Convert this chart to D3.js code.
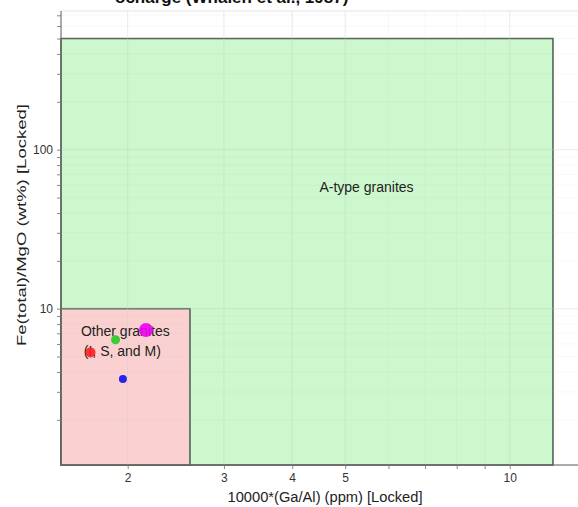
<!DOCTYPE html>
<html>
<head>
<meta charset="utf-8">
<script src="https://cdn.jsdelivr.net/npm/d3@7"></script>
<style>
  html, body { margin: 0; padding: 0; background: #ffffff; }
  svg { display: block; font-family: "Liberation Sans", Arial, sans-serif; }
</style>
</head>
<body>
<svg id="chart" width="578" height="507"></svg>
<script>
// Whalen et al. (1987) discrimination fields and sample points
const titleText = "ocharge (Whalen et al., 1987)";
const xTitle = "10000*(Ga/Al) (ppm) [Locked]";
const yTitle = "Fe(total)/MgO (wt%) [Locked]";

const xDomain = [1.51, 13.5];
const yDomain = [1.04, 745];
const xTickLabels = [2, 3, 4, 5, 10];
const yTickLabels = [10, 100];

// Fields: x extent and y extent
const fieldNames = ["A-type granites", "Other granites"];
const fieldX = [[1.51, 12], [1.51, 2.6]];
const fieldY = [[1.04, 500], [1.04, 10]];
const fieldFill = ["#cdf7cd", "#fbd0d0"];
const fieldLabelX = [5.47, 1.98];
const fieldLabelY = [54.5, 6.7];
const fieldLabelLines = [["A-type granites"], ["Other granites", "(I, S, and M)"]];

// Samples
const sampleGaAl = [1.71, 1.90, 2.16, 1.96];
const sampleFeMg = [5.31, 6.38, 7.35, 3.61];
const sampleColor = ["#ff2020", "#22cc22", "#ee00ee", "#1010ee"];
const sampleRadius = [5, 4.5, 7, 4];

(function draw() {
  const svg = d3.select("#chart");
  const padLeft = 61, padTop = 11, axisY = 465;
  const pxPerDecadeX = 546.5;
  const plotRight = padLeft + pxPerDecadeX * Math.log10(xDomain[1] / xDomain[0]);

  const x = d3.scaleLog().domain(xDomain).range([padLeft, plotRight]);
  const y = d3.scaleLog().domain(yDomain).range([axisY, padTop]);

  // Title (runs above the visible area)
  svg.append("text")
    .attr("x", 115).attr("y", 3)
    .attr("font-size", 17).attr("font-weight", "bold").attr("fill", "#111")
    .text(titleText);

  // Plot frame
  svg.append("rect")
    .attr("x", padLeft).attr("y", padTop)
    .attr("width", plotRight - padLeft).attr("height", axisY - padTop)
    .attr("fill", "#ffffff").attr("stroke", "#e4e4e4");

  // Fields
  const fields = fieldNames.map((n, i) => ({ n, xs: fieldX[i], ys: fieldY[i], fill: fieldFill[i] }));
  svg.append("g").selectAll("rect").data(fields).join("rect")
    .attr("x", d => x(d.xs[0]))
    .attr("y", d => y(d.ys[1]))
    .attr("width", d => x(d.xs[1]) - x(d.xs[0]))
    .attr("height", d => y(d.ys[0]) - y(d.ys[1]))
    .attr("fill", d => d.fill)
    .attr("stroke", "#4c5a4c").attr("stroke-width", 1.5);

  // Faint grid
  const grid = svg.append("g").attr("stroke", "#c8c8c8").attr("stroke-width", 1);
  x.ticks().filter(v => v >= 2).forEach(v => {
    grid.append("line").attr("x1", x(v)).attr("x2", x(v)).attr("y1", padTop).attr("y2", axisY)
      .attr("stroke-opacity", xTickLabels.includes(v) ? 0.4 : 0.12);
  });
  y.ticks().forEach(v => {
    grid.append("line").attr("x1", padLeft).attr("x2", plotRight).attr("y1", y(v)).attr("y2", y(v))
      .attr("stroke-opacity", yTickLabels.includes(v) ? 0.4 : 0.12);
  });

  // Field labels
  fields.forEach((d, i) => {
    const t = svg.append("text")
      .attr("x", x(fieldLabelX[i])).attr("y", y(fieldLabelY[i]))
      .attr("text-anchor", "middle").attr("font-size", 14).attr("fill", "#222");
    fieldLabelLines[i].forEach((line, j) => {
      t.append("tspan").attr("x", x(fieldLabelX[i]) - j * 3).attr("dy", j === 0 ? 0 : 20).text(line);
    });
  });

  // Samples
  const samples = sampleGaAl.map((v, i) => ({ gx: v, fy: sampleFeMg[i], c: sampleColor[i], r: sampleRadius[i] }));
  svg.append("g").selectAll("circle").data(samples).join("circle")
    .attr("cx", d => x(d.gx)).attr("cy", d => y(d.fy))
    .attr("r", d => d.r).attr("fill", d => d.c).attr("fill-opacity", 0.9);

  // Axes
  const xAxis = d3.axisBottom(x)
    .tickValues(x.ticks().filter(v => v >= 2))
    .tickSize(4).tickPadding(4)
    .tickFormat(v => xTickLabels.includes(v) ? v : "");
  const gx = svg.append("g").attr("transform", `translate(0,${axisY})`).call(xAxis);
  gx.selectAll(".tick line").attr("stroke", "#888");
  gx.selectAll(".tick text").attr("font-size", 12).attr("fill", "#333")
    .attr("font-family", "Liberation Sans, Arial, sans-serif");

  const yAxis = d3.axisLeft(y)
    .tickValues(y.ticks())
    .tickSize(4).tickPadding(4)
    .tickFormat(v => yTickLabels.includes(v) ? v : "");
  const gy = svg.append("g").attr("transform", `translate(${padLeft},0)`).call(yAxis);
  gy.selectAll(".tick line").attr("stroke", "#888");
  gy.selectAll(".tick text").attr("font-size", 12).attr("fill", "#333")
    .attr("font-family", "Liberation Sans, Arial, sans-serif");
  svg.selectAll(".domain").remove();
  svg.append("line").attr("x1", padLeft).attr("x2", plotRight).attr("y1", axisY).attr("y2", axisY).attr("stroke", "#666");
  svg.append("line").attr("x1", padLeft).attr("x2", padLeft).attr("y1", padTop).attr("y2", axisY).attr("stroke", "#666");

  // Axis titles
  svg.append("text")
    .attr("x", 325).attr("y", 502).attr("text-anchor", "middle")
    .attr("font-size", 14).attr("fill", "#222")
    .attr("textLength", 195).attr("lengthAdjust", "spacingAndGlyphs")
    .text(xTitle);
  svg.append("text")
    .attr("transform", "translate(26,225) rotate(-90)")
    .attr("text-anchor", "middle").attr("font-size", 13).attr("fill", "#222")
    .attr("textLength", 242).attr("lengthAdjust", "spacingAndGlyphs")
    .text(yTitle);
})();
</script>
</body>
</html>
